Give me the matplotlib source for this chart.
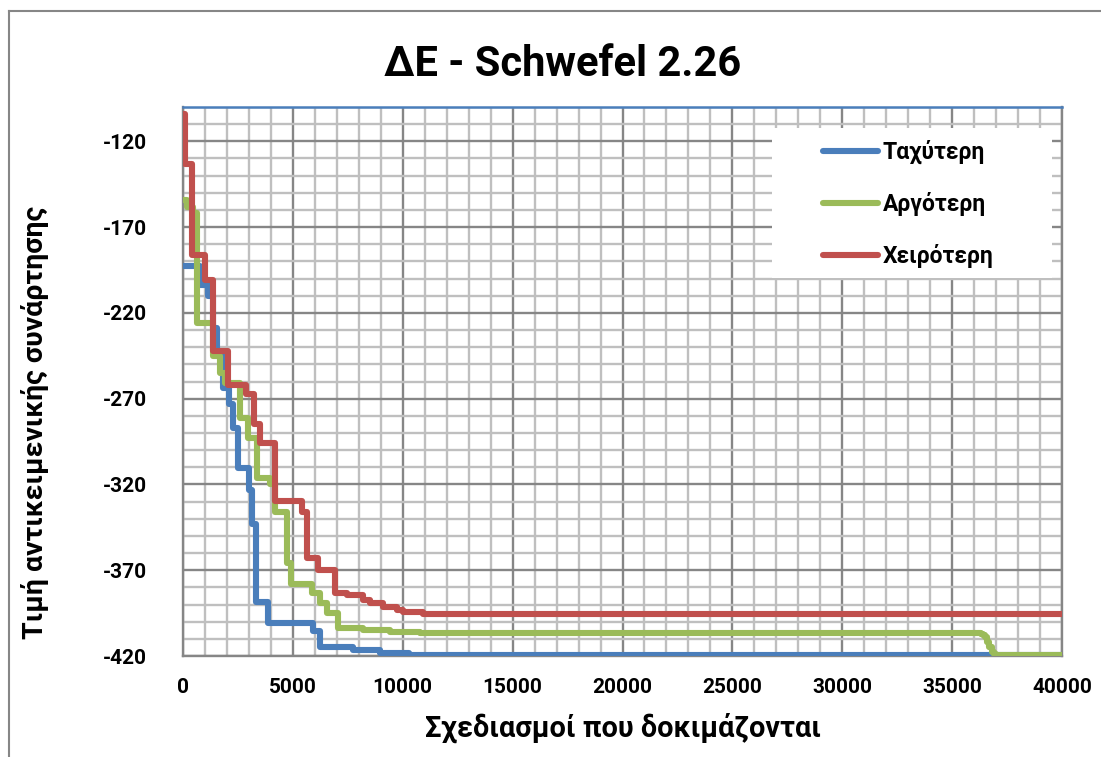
import matplotlib
matplotlib.use("Agg")
import matplotlib.pyplot as plt
import numpy as np
from matplotlib.patches import Rectangle
from matplotlib.lines import Line2D

plt.rcParams['font.family'] = ['Roboto', 'DejaVu Sans']
plt.rcParams['font.weight'] = 'bold'

# Best objective value found so far vs. number of evaluated designs
fast_x = [0, 770, 1140, 1360, 1550, 1820, 2090, 2270, 2500, 3000, 3140, 3320,
          3860, 5900, 6230, 7730, 8950, 10300, 12600, 40000]
fast_y = [-192.7, -204, -210, -228.7, -245, -263.5, -273, -287, -310.7, -323.5,
          -343, -388.5, -400.8, -405.5, -415, -416.5, -418, -419.2, -419.6, -419.6]

slow_x = [0, 200, 450, 650, 1360, 1700, 1900, 2590, 2950, 3360, 3950, 4180,
          4730, 4900, 5860, 6230, 6550, 7050, 8180, 9400, 10800, 36300, 36400,
          36500, 36600, 36700, 36800, 36900, 37000, 40000]
slow_y = [-154, -158, -162, -226, -245, -255, -261, -281, -293, -316, -319.5,
          -336, -366, -378, -383, -389, -395, -403.7, -405, -406, -406.6, -406.9,
          -407.6, -409.2, -412, -415, -417.6, -419, -419.5, -419.5]

worst_x = [0, 90, 410, 1000, 1360, 2050, 2860, 3230, 3500, 4180, 5410, 5640,
           6140, 6900, 7450, 8180, 8500, 9090, 9730, 10000, 10900, 40000]
worst_y = [-104, -133, -186, -201, -242, -262, -267, -284.5, -296, -329.5, -336,
           -363, -370, -383, -384.5, -387.5, -389, -391.5, -393, -394.5, -395.6,
           -395.6]

series_names = ['Ταχύτερη', 'Αργότερη', 'Χειρότερη']
series_colors = ['#4A7EBB', '#9BBB59', '#C0504D']

x_major = np.arange(0, 40001, 5000)
x_minor = np.arange(0, 40001, 1000)
y_major = np.arange(-420, -119, 50)
y_minor = np.arange(-420, -99, 10)

W, H = 1101, 757
fig = plt.figure(figsize=(W / 100, H / 100), dpi=100)
ax = fig.add_axes([183 / W, 1 - 656 / H, (1062 - 183) / W, (656 - 107) / H])

ax.set_xlim(0, 40000)
ax.set_ylim(-420, -100)
ax.set_xticks(x_major)
ax.set_xticks(x_minor, minor=True)
ax.set_yticks(y_major)
ax.set_yticks(y_minor, minor=True)
ax.set_xticklabels([str(v) for v in x_major])
ax.set_yticklabels([str(v) for v in y_major])
ax.grid(which='minor', color='#BFBFBF', linewidth=1.7)
ax.grid(which='major', color='#868686', linewidth=1.7)
ax.tick_params(which='both', length=0)
ax.tick_params(axis='x', pad=16, labelsize=15)
ax.tick_params(axis='y', pad=26, labelsize=15)

for side in ['left', 'bottom', 'right']:
    ax.spines[side].set_color('#868686')
    ax.spines[side].set_linewidth(1.7)
ax.spines['top'].set_color('#4A7EBB')
ax.spines['top'].set_linewidth(1.8)

handles = []
for xs, ys, name, col in zip([fast_x, slow_x, worst_x], [fast_y, slow_y, worst_y],
                             series_names, series_colors):
    ax.step(xs, ys, where='post', color=col, linewidth=4.4,
            solid_capstyle='round', solid_joinstyle='round', zorder=3)
    handles.append(Line2D([], [], color=col, linewidth=4.4, solid_capstyle='round'))

# white legend panel over the grid
ax.add_patch(Rectangle((772 / W, 1 - 278 / H), (1052 - 772) / W, (278 - 128) / H,
                       transform=fig.transFigure, facecolor='white',
                       edgecolor='none', zorder=2))
leg = ax.legend(handles, series_names, loc='upper left',
                bbox_to_anchor=(823 / W, 1 - 140 / H),
                bbox_transform=fig.transFigure, frameon=False,
                prop={'size': 16.5, 'weight': 'bold'}, handlelength=2.4,
                handletextpad=0.2, labelspacing=1.22, borderpad=0, borderaxespad=0)
leg.set_zorder(4)

fig.text(563 / W, 1 - 64 / H, 'ΔΕ - Schwefel 2.26', ha='center', va='center',
         fontsize=30, fontweight='bold')
fig.text(623 / W, 1 - 728 / H, 'Σχεδιασμοί που δοκιμάζονται', ha='center',
         va='center', fontsize=20.8, fontweight='bold')
fig.text(35 / W, 1 - 422 / H, 'Τιμή αντικειμενικής συνάρτησης', ha='center',
         va='center', rotation=90, fontsize=20.5, fontweight='bold')

# outer chart frame
fig.add_artist(Line2D([9 / W, 9 / W], [0, 1 - 11 / H], transform=fig.transFigure,
                      color='#868686', linewidth=1.5))
fig.add_artist(Line2D([9 / W, 1], [1 - 11 / H, 1 - 11 / H], transform=fig.transFigure,
                      color='#868686', linewidth=1.5))

fig.savefig('out.png', dpi=100)
